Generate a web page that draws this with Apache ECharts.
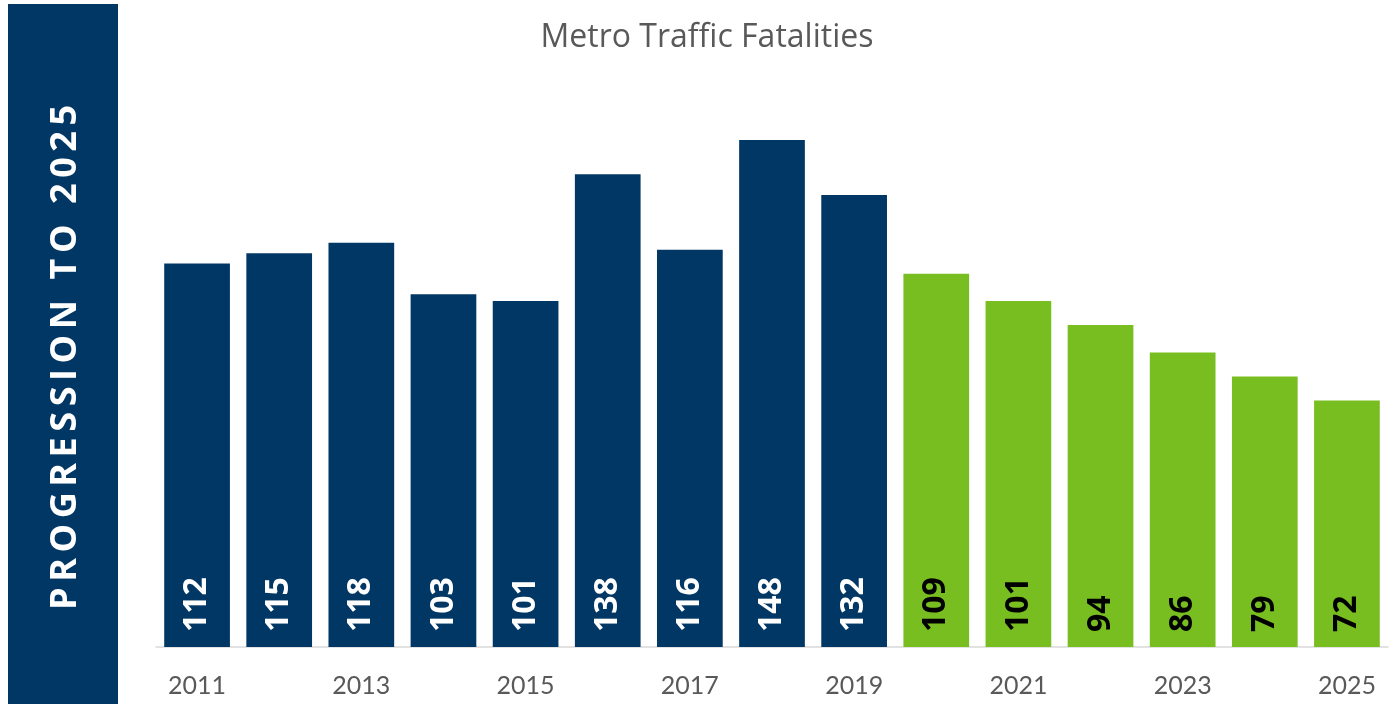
<!DOCTYPE html>
<html>
<head>
<meta charset="utf-8">
<script src="https://cdn.jsdelivr.net/npm/echarts@6/dist/echarts.min.js"></script>
<style>
html,body{margin:0;padding:0;background:#fff;}
#chart{width:1392px;height:704px;}
</style>
</head>
<body>
<div id="chart"></div>
<script>
var titleText = 'Metro Traffic Fatalities';
var sideText = 'PROGRESSION TO 2025';
var years = ['2011','2012','2013','2014','2015','2016','2017','2018','2019','2020','2021','2022','2023','2024','2025'];
var actualValues = [112,115,118,103,101,138,116,148,132,null,null,null,null,null,null];
var targetValues = [null,null,null,null,null,null,null,null,null,109,101,94,86,79,72];

var BLUE = '#003764';
var GREEN = '#78BE21';

var chart = echarts.init(document.getElementById('chart'), null, {renderer:'canvas'});

// letter-spaced vertical side label
var sideFont = 'bold 36px "Open Sans"';
var ctx = document.createElement('canvas').getContext('2d');
ctx.font = sideFont;
var chars = sideText.split('');
var widths = chars.map(function(c){return ctx.measureText(c).width;});
var natural = widths.reduce(function(a,b){return a+b;},0);
var targetLen = 505;
var spacing = (targetLen - natural)/(chars.length-1);
var children = [];
var pos = 0;
chars.forEach(function(c,i){
  children.push({type:'text', x:pos, y:0, style:{text:c, fill:'#fff', font:sideFont, textAlign:'left', textVerticalAlign:'middle'}});
  pos += widths[i] + spacing;
});

function mkLabel(color){
  return {
    show:true, position:'insideBottom', rotate:90, distance:15,
    align:'left', verticalAlign:'middle',
    color:color, fontFamily:'"Open Sans"', fontWeight:'bold', fontSize:32
  };
}

chart.setOption({
  animation:false,
  title:{text:titleText, left:702, top:17, textAlign:'center',
    textStyle:{color:'#595959', fontFamily:'"Open Sans"', fontWeight:'normal', fontSize:32}},
  grid:{left:156, right:4, top:99, bottom:57, containLabel:false},
  xAxis:{type:'category', data:years,
    axisLine:{show:true, lineStyle:{color:'#D9D9D9', width:1.5}},
    axisTick:{show:false},
    axisLabel:{interval:1, color:'#595959', fontFamily:'Lato', fontSize:25, margin:26}},
  yAxis:{type:'value', min:0, max:160, show:false, splitLine:{show:false}},
  series:[
    {name:'Actual', type:'bar', stack:'s', data:actualValues, barCategoryGap:'20%',
     itemStyle:{color:BLUE}, label:mkLabel('#ffffff')},
    {name:'Target', type:'bar', stack:'s', data:targetValues, barCategoryGap:'20%',
     itemStyle:{color:GREEN}, label:mkLabel('#000000')}
  ],
  graphic:[
    {type:'rect', shape:{x:8, y:4, width:110, height:700}, style:{fill:BLUE}, z:0},
    {type:'group', x:66, y:610, rotation:Math.PI/2, children:children, z:1}
  ]
});
</script>
</body>
</html>
